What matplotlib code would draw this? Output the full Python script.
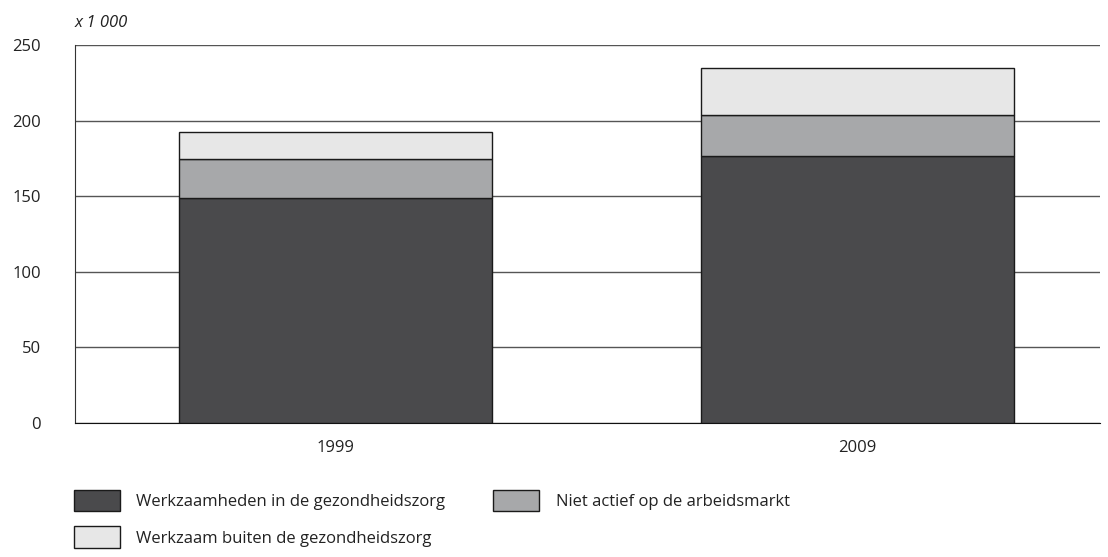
import matplotlib
matplotlib.use("Agg")
import matplotlib.pyplot as plt
import numpy as np

plt.rcParams['font.family'] = ['Open Sans', 'DejaVu Sans']

years = ["1999", "2009"]
in_zorg = [149, 176.5]
niet_actief = [25.5, 27.5]
buiten_zorg = [18, 30.5]
series_labels = ["Werkzaamheden in de gezondheidszorg",
                 "Niet actief op de arbeidsmarkt",
                 "Werkzaam buiten de gezondheidszorg"]
colors = ["#4a4a4c", "#a7a8aa", "#e7e7e7"]
yticks = [0, 50, 100, 150, 200, 250]

FS = 12

fig = plt.figure(figsize=(11.08, 5.57), dpi=100)
ax = fig.add_axes([75/1108, 1-423/557, (1100-75)/1108, (423-45)/557])

x = np.arange(len(years))
w = 0.6
bottom = np.zeros(len(years))
handles = []
for vals, lab, c in zip([in_zorg, niet_actief, buiten_zorg], series_labels, colors):
    b = ax.bar(x, vals, w, bottom=bottom, color=c, edgecolor="#1a1a1a", linewidth=1.0,
               label=lab, zorder=3)
    handles.append(b)
    bottom += np.array(vals)

ax.set_ylim(0, 250)
ax.set_xlim(-0.5, 1.465)
ax.set_yticks(yticks)
ax.set_xticks(x)
ax.set_xticklabels(years)
ax.yaxis.grid(True, color="#555555", linewidth=1.0, zorder=0)
ax.set_axisbelow(True)
for s in ["top", "right"]:
    ax.spines[s].set_visible(False)
ax.spines["left"].set_color("#333333")
ax.spines["bottom"].set_color("#111111")
ax.tick_params(axis="both", length=0, labelsize=FS, colors="#222222")
ax.tick_params(axis="y", pad=24.5)
ax.tick_params(axis="x", pad=12)
for lbl in ax.get_yticklabels():
    lbl.set_horizontalalignment("right")

fig.text(75/1108, 1-23/557, "x 1 000", style="italic", fontsize=FS, color="#222222",
         va="center", ha="left")

order = [0, 2, 1]
leg = fig.legend([handles[i] for i in order], [series_labels[i] for i in order],
                 ncol=2, loc="upper left", bbox_to_anchor=(74/1108, 1-490/557),
                 frameon=False, fontsize=FS, handlelength=2.75, handleheight=1.6,
                 handletextpad=1.0, columnspacing=2.85, labelspacing=0.9, borderpad=0,
                 borderaxespad=0)
for t in leg.get_texts():
    t.set_color("#222222")

fig.savefig("out.png", dpi=100)
